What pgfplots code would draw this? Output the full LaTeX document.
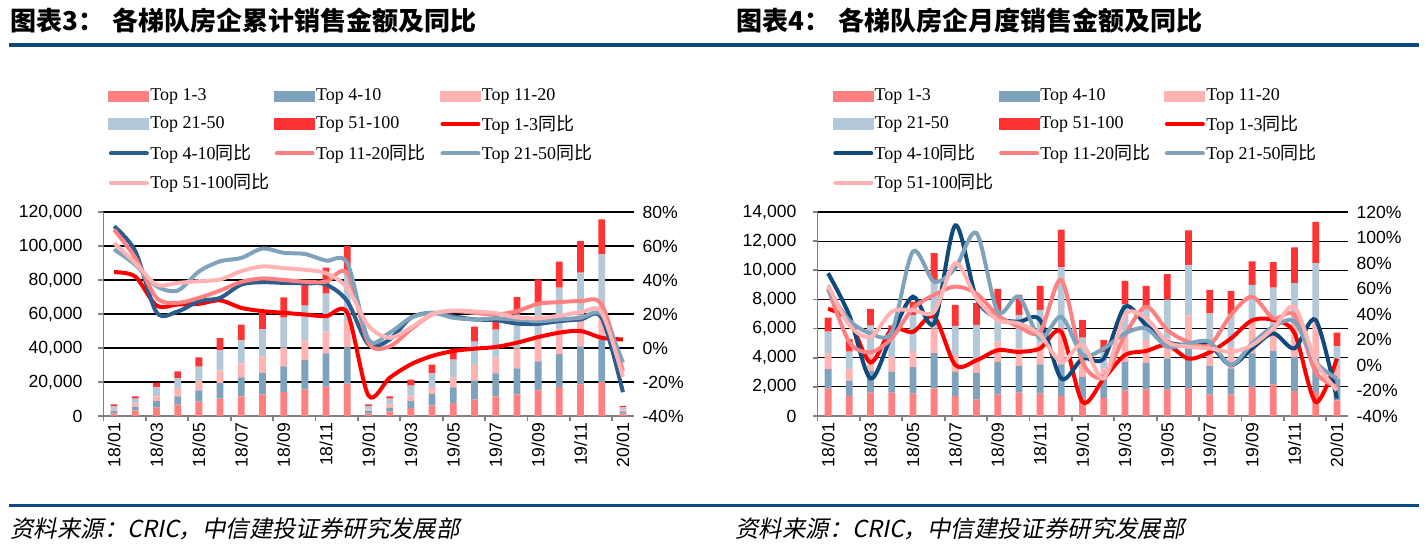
\documentclass[border=0pt]{standalone}
\usepackage{pgfplots}
\pgfplotsset{compat=1.18}
\usepackage{pgfplotstable}
\usepackage{fontspec}
\setmainfont{Liberation Serif}
\newfontfamily\cjk{Noto Sans CJK SC}
\newfontfamily\cjkit[FakeSlant=0.2]{Noto Sans CJK SC}
\newfontfamily\arial{Liberation Sans}
\newcommand\tickf{\fontsize{8.8}{10}\selectfont\arial}
\newcommand\legf{\fontsize{9}{10}\selectfont\rmfamily}
\newcommand\titlef{\fontsize{13}{15}\selectfont\cjk\bfseries}
\newcommand\srcf{\fontsize{11.7}{14}\selectfont\cjkit}

\definecolor{cA}{HTML}{FF8080}
\definecolor{cB}{HTML}{7FA2BD}
\definecolor{cC}{HTML}{FFB3B3}
\definecolor{cD}{HTML}{B3C8D9}
\definecolor{cE}{HTML}{FF3333}
\definecolor{lA}{HTML}{FF0000}
\definecolor{lBl}{HTML}{2C5D8C}
\definecolor{lBr}{HTML}{0E4A7B}
\definecolor{lC}{HTML}{FF8080}
\definecolor{lD}{HTML}{7FA2BD}
\definecolor{lE}{HTML}{FFB3B3}
\definecolor{rulec}{HTML}{0B4A80}

\pgfplotstableread{
x a b c d e
0 1370 1760 980 1570 1180
1 3330 1960 1960 2940 1370
2 4900 3920 2740 5290 2740
3 6660 4900 4900 5880 3920
4 8430 6660 5490 8430 5490
5 10190 9210 7450 11760 7250
6 11560 11170 8230 13720 9020
7 12740 12740 9600 15880 9800
8 14110 15090 10980 17640 11960
9 15480 17440 11560 20380 12940
10 17250 19600 12740 22340 15290
11 19010 21170 15680 28420 15680
12 1370 1570 980 1960 980
13 2740 2160 1960 3330 1370
14 4700 4120 3140 5880 3530
15 6080 6860 4120 8040 5100
16 7640 9210 5680 10580 6470
17 9800 11170 9020 13720 8820
18 11560 13520 9210 16460 10000
19 12740 15290 11760 19990 10190
20 15090 17050 14900 19600 13720
21 17050 19400 15090 23910 15290
22 18620 22340 18820 24500 18620
23 19990 25090 19600 30380 20580
24 1370 1370 1180 1180 780
}\cumbars

\pgfplotstableread{
x a b c d e
0 44.6 71.6 69.6 58 61.8
1 42 57 53 49 50
2 25 21 29.5 36.4 37.3
3 25.6 21.5 26.6 33.8 38.3
4 26 27.5 29.5 45 39.3
5 28 29.5 33.8 51 40.3
6 23.6 37.3 38.9 53 45.2
7 21.7 38.7 40.9 58.5 48
8 20.7 38.3 40 56 47
9 19.7 38 39 55.3 46
10 18.7 37.3 39 51.4 44
11 20.7 27.5 44 50 35.4
12 -28 2 3 5 13
13 -17.5 5 1 9 6
14 -9.6 17.8 11 17.8 12
15 -4.7 20.7 19.7 20.7 20
16 -1.8 18.7 21.7 17.8 22
17 -0.4 16.8 20.7 16.8 21.5
18 0.6 16.4 19.7 17.4 20.5
19 3.1 14.4 21.7 16.8 18
20 6.4 14.2 26 15.8 17.5
21 9 15.8 27 16.8 19
22 10 16.8 27.5 17.8 21
23 6 17.8 25.6 19.7 21
24 5 -26 -13.5 -8.6 -17
}\cumyoy

\pgfplotstableread{
x a b c d e
0 1883 1332 1079 1492 964
1 1378 1033 804 1194 872
2 1607 1492 1309 1791 1148
3 1607 1424 1033 1450 700
4 1538 1814 1125 2457 918
5 1883 2434 1699 3214 1952
6 1355 1676 1148 1998 1446
7 1148 1814 873 2411 1492
8 1469 2250 1378 1952 1676
9 1607 1837 1194 2296 1378
10 1538 1998 1446 2296 1653
11 1355 2181 2480 4179 2594
12 1240 1446 1033 1653 1217
13 1240 1561 459 1148 804
14 1745 1975 1607 2342 1607
15 1814 1837 1561 2296 1424
16 1814 2135 1378 2663 1745
17 1929 2939 2020 3490 2365
18 1469 1952 1446 2181 1607
19 1469 1791 1492 2227 1607
20 1998 2296 2296 2411 1607
21 2158 2296 1446 2916 1745
22 1722 2342 2526 2526 2457
23 1653 2296 2755 3788 2824
24 1079 1492 918 1309 918
}\monbars

\pgfplotstableread{
x a b c d e
0 44 72 60 59 62.8
1 35 39 18 35 31.3
2 2 -10.6 10 24.8 22
3 28 23.5 21 26 41.8
4 26 53.6 44.4 89 43
5 38 32.6 55 65.4 41.8
6 0 109.5 61.5 76 79.9
7 3.7 52.3 56 103.5 52.3
8 11.6 36.6 39 41.8 35.3
9 10.3 34 30 53.6 32.6
10 13 35.3 26 20.8 23.5
11 26 -10.6 66.7 37.9 2.4
12 -29 5 2.4 8 16
13 -10.7 5 -9.3 13 -10.7
14 7.7 45.7 23.5 24.8 39.2
15 11 31.3 45.7 28.7 36.6
16 15.6 18 27.4 14.3 18
17 5 15.6 18 16.9 14.3
18 10 15.6 15.6 18.2 13
19 20.8 -0.1 39.2 -0.1 10.3
20 35 13 53.6 16.9 15.6
21 35.3 24.8 36.6 30 28.7
22 25 13 39.2 34 45.7
23 -29 35.3 -5.5 2.4 2.4
24 5 -26.4 -17 -10.6 -19.8
}\monyoy

\pgfplotsset{
  barleg/.style={legend image code/.code={\fill[#1] (0pt,-2.7pt) rectangle (20pt,2.7pt);}},
  lineleg/.style={legend image code/.code={\draw[#1, line width=2pt, line cap=round] (1pt,0pt) -- (19pt,0pt);}},
  legstyle/.style={legend columns=3, legend cell align=left,
    legend style={at={(axis description cs:#1,1.608)}, anchor=north west, draw=none, fill=none,
      inner sep=0pt, outer sep=0pt, font=\legf, row sep=4.6pt, column sep=0pt,
      nodes={inner sep=0.5pt}}},
  baraxis/.style={scale only axis, width=265pt, height=102pt,
    xmin=-0.5, xmax=24.5, ymin=0,
    ybar stacked, bar width=3.4pt,
    scaled y ticks=false,
    axis x line*=bottom, axis y line*=left,
    axis line style={draw=gray, line width=0.9pt},
    every tick/.style={gray, line width=0.9pt},
    tick align=outside, major tick length=2.5pt,
    xtick={-0.5,1.5,...,23.5}, xticklabels={},
    extra x ticks={0,2,...,24},
    extra x tick labels={18/01,18/03,18/05,18/07,18/09,18/11,19/01,19/03,19/05,19/07,19/09,19/11,20/01},
    extra x tick style={major tick length=0pt, xticklabel style={rotate=90, anchor=east, font=\tickf}},
    yticklabel style={font=\tickf, xshift=-4.5pt},
    ymajorgrids, grid style={black, line width=0.6pt}},
  lineaxis/.style={scale only axis, width=265pt, height=102pt,
    xmin=-0.5, xmax=24.5, scaled y ticks=false,
    axis x line=none, axis y line*=right, y axis line style={draw=none},
    major tick length=0pt,
    yticklabel style={font=\tickf, xshift=1pt}},
}

\begin{document}
\begin{tikzpicture}
\path[use as bounding box] (0,0) rectangle (713pt,-274.5pt);

% titles and rules
\node[anchor=west, inner sep=0pt, font=\titlef] at (5pt,-10.5pt) {图表3：\hspace{4pt}各梯队房企累计销售金额及同比};
\node[anchor=west, inner sep=0pt, font=\titlef] at (368pt,-10.5pt) {图表4：\hspace{4pt}各梯队房企月度销售金额及同比};
\fill[rulec] (4.5pt,-21.3pt) rectangle (709.5pt,-23.6pt);
\fill[rulec] (4.5pt,-252pt) rectangle (709.5pt,-253.6pt);
\node[anchor=west, inner sep=0pt, font=\srcf] at (5pt,-264.5pt) {资料来源：CRIC，中信建投证券研究发展部};
\node[anchor=west, inner sep=0pt, font=\srcf] at (367.5pt,-264.5pt) {资料来源：CRIC，中信建投证券研究发展部};

% ===== Left chart: cumulative =====
\begin{axis}[baraxis, at={(51.75pt,-208pt)}, anchor=south west,
  ymax=120000, ytick={0,20000,...,120000},
  yticklabels={0,{20,000},{40,000},{60,000},{80,000},{100,000},{120,000}}]
\addplot[fill=cA, draw=none] table[x=x,y=a]{\cumbars};
\addplot[fill=cB, draw=none] table[x=x,y=b]{\cumbars};
\addplot[fill=cC, draw=none] table[x=x,y=c]{\cumbars};
\addplot[fill=cD, draw=none] table[x=x,y=d]{\cumbars};
\addplot[fill=cE, draw=none] table[x=x,y=e]{\cumbars};
\end{axis}
\begin{axis}[lineaxis, at={(51.75pt,-208pt)}, anchor=south west,
  ymin=-40, ymax=80, ytick={-40,-20,...,80},
  yticklabels={-40\%,-20\%,0\%,20\%,40\%,60\%,80\%},
  legstyle=0.0094]
\addlegendimage{barleg=cA}\addlegendentry{\makebox[61.5pt][l]{Top 1-3}}
\addlegendimage{barleg=cB}\addlegendentry{\makebox[61.5pt][l]{Top 4-10}}
\addlegendimage{barleg=cC}\addlegendentry{\makebox[61.5pt][l]{Top 11-20}}
\addlegendimage{barleg=cD}\addlegendentry{\makebox[61.5pt][l]{Top 21-50}}
\addlegendimage{barleg=cE}\addlegendentry{\makebox[61.5pt][l]{Top 51-100}}
\addlegendimage{lineleg=lA}\addlegendentry{\makebox[61.5pt][l]{Top 1-3{\cjk 同比}}}
\addlegendimage{lineleg=lBl}\addlegendentry{\makebox[61.5pt][l]{Top 4-10{\cjk 同比}}}
\addlegendimage{lineleg=lC}\addlegendentry{\makebox[61.5pt][l]{Top 11-20{\cjk 同比}}}
\addlegendimage{lineleg=lD}\addlegendentry{\makebox[61.5pt][l]{Top 21-50{\cjk 同比}}}
\addlegendimage{lineleg=lE}\addlegendentry{\makebox[61.5pt][l]{Top 51-100{\cjk 同比}}}
\addplot[lA, line width=2pt, smooth, forget plot] table[x=x,y=a]{\cumyoy};
\addplot[lBl, line width=2pt, smooth, forget plot] table[x=x,y=b]{\cumyoy};
\addplot[lC, line width=2pt, smooth, forget plot] table[x=x,y=c]{\cumyoy};
\addplot[lD, line width=2pt, smooth, forget plot] table[x=x,y=d]{\cumyoy};
\addplot[lE, line width=2pt, smooth, forget plot] table[x=x,y=e]{\cumyoy};
\end{axis}

% ===== Right chart: monthly =====
\begin{axis}[baraxis, at={(408.75pt,-208pt)}, anchor=south west,
  ymax=14000, ytick={0,2000,...,14000},
  yticklabels={0,{2,000},{4,000},{6,000},{8,000},{10,000},{12,000},{14,000}}]
\addplot[fill=cA, draw=none] table[x=x,y=a]{\monbars};
\addplot[fill=cB, draw=none] table[x=x,y=b]{\monbars};
\addplot[fill=cC, draw=none] table[x=x,y=c]{\monbars};
\addplot[fill=cD, draw=none] table[x=x,y=d]{\monbars};
\addplot[fill=cE, draw=none] table[x=x,y=e]{\monbars};
\end{axis}
\begin{axis}[lineaxis, at={(408.75pt,-208pt)}, anchor=south west,
  ymin=-40, ymax=120, ytick={-40,-20,...,120},
  yticklabels={-40\%,-20\%,0\%,20\%,40\%,60\%,80\%,100\%,120\%},
  legstyle=0.029]
\addlegendimage{barleg=cA}\addlegendentry{\makebox[61.5pt][l]{Top 1-3}}
\addlegendimage{barleg=cB}\addlegendentry{\makebox[61.5pt][l]{Top 4-10}}
\addlegendimage{barleg=cC}\addlegendentry{\makebox[61.5pt][l]{Top 11-20}}
\addlegendimage{barleg=cD}\addlegendentry{\makebox[61.5pt][l]{Top 21-50}}
\addlegendimage{barleg=cE}\addlegendentry{\makebox[61.5pt][l]{Top 51-100}}
\addlegendimage{lineleg=lA}\addlegendentry{\makebox[61.5pt][l]{Top 1-3{\cjk 同比}}}
\addlegendimage{lineleg=lBr}\addlegendentry{\makebox[61.5pt][l]{Top 4-10{\cjk 同比}}}
\addlegendimage{lineleg=lC}\addlegendentry{\makebox[61.5pt][l]{Top 11-20{\cjk 同比}}}
\addlegendimage{lineleg=lD}\addlegendentry{\makebox[61.5pt][l]{Top 21-50{\cjk 同比}}}
\addlegendimage{lineleg=lE}\addlegendentry{\makebox[61.5pt][l]{Top 51-100{\cjk 同比}}}
\addplot[lA, line width=2pt, smooth, forget plot] table[x=x,y=a]{\monyoy};
\addplot[lBr, line width=2pt, smooth, forget plot] table[x=x,y=b]{\monyoy};
\addplot[lC, line width=2pt, smooth, forget plot] table[x=x,y=c]{\monyoy};
\addplot[lD, line width=2pt, smooth, forget plot] table[x=x,y=d]{\monyoy};
\addplot[lE, line width=2pt, smooth, forget plot] table[x=x,y=e]{\monyoy};
\end{axis}
\end{tikzpicture}
\end{document}
